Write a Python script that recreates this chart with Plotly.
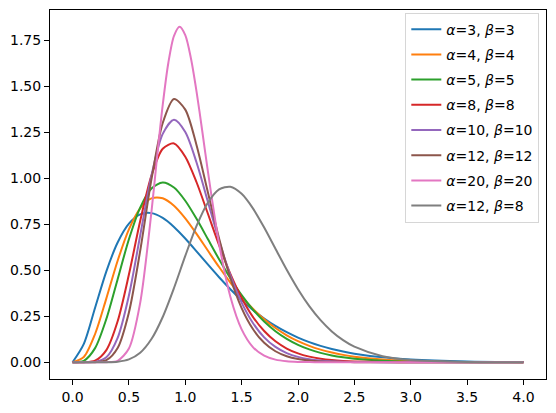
import plotly.graph_objects as go

# x positions shared by most curves
x = [0.0, 0.1, 0.2, 0.3, 0.4, 0.5, 0.6, 0.7, 0.8, 0.9, 1.0,
     1.1, 1.2, 1.3, 1.4, 1.5, 1.6, 1.7, 1.8, 1.9, 2.0,
     2.1, 2.2, 2.3, 2.4, 2.5, 2.75, 3.0, 3.5, 4.0]

# the narrow a=20 curve gets a few extra points around its peak
x_pink = [0.0, 0.1, 0.2, 0.3, 0.4, 0.5, 0.6, 0.7, 0.75, 0.8, 0.85, 0.9, 0.95, 1.0,
          1.05, 1.1, 1.15, 1.2, 1.3, 1.4, 1.5, 1.6, 1.7, 1.8, 1.9, 2.0,
          2.1, 2.2, 2.3, 2.4, 2.5, 2.75, 3.0, 3.5, 4.0]

y_a3 = [0.0, 0.10001, 0.29636, 0.49398, 0.65058, 0.75306, 0.80335, 0.81005, 0.78380, 0.73489, 0.67213,
        0.60248, 0.53118, 0.46182, 0.39679, 0.33744, 0.28442, 0.23786, 0.19755, 0.16307, 0.13385,
        0.10932, 0.08889, 0.07197, 0.05805, 0.04667, 0.02667, 0.01499, 0.00455, 0.00133]
y_a4 = [0.0, 0.02860, 0.15337, 0.34698, 0.55133, 0.72179, 0.83605, 0.88993, 0.89048, 0.84990, 0.78147,
        0.69720, 0.60677, 0.51713, 0.43294, 0.35695, 0.29039, 0.23348, 0.18578, 0.14646, 0.11450,
        0.08886, 0.06848, 0.05245, 0.03995, 0.03027, 0.01482, 0.00708, 0.00152, 0.00031]
y_a5 = [0.0, 0.00790, 0.07664, 0.23534, 0.45113, 0.66802, 0.84017, 0.94406, 0.97685, 0.94905, 0.87735,
        0.77911, 0.66929, 0.55911, 0.45614, 0.36459, 0.28627, 0.22128, 0.16869, 0.12702, 0.09459,
        0.06973, 0.05094, 0.03691, 0.02654, 0.01896, 0.00795, 0.00323, 0.00049, 0.00007]
y_a8 = [0.0, 0.00015, 0.00860, 0.06604, 0.22234, 0.47628, 0.76689, 1.01375, 1.15992, 1.18867, 1.11668,
        0.97778, 0.80784, 0.63569, 0.47983, 0.34945, 0.24669, 0.16945, 0.11359, 0.07453, 0.04796,
        0.03032, 0.01887, 0.01157, 0.00700, 0.00419, 0.00110, 0.00027, 0.00001, 0.0]
y_a10 = [0.0, 0.00001, 0.00191, 0.02701, 0.13233, 0.36268, 0.68838, 1.01404, 1.24077, 1.31755, 1.25110,
         1.08525, 0.87365, 0.66053, 0.47344, 0.32408, 0.21312, 0.13529, 0.08326, 0.04981, 0.02909,
         0.01659, 0.00928, 0.00509, 0.00275, 0.00146, 0.00028, 0.00005, 0.0, 0.0]
y_a12 = [0.0, 0.0, 0.00042, 0.01082, 0.07710, 0.27039, 0.60499, 0.99316, 1.29958, 1.42991, 1.37243,
         1.17938, 0.92506, 0.67205, 0.45739, 0.29425, 0.18025, 0.10578, 0.05973, 0.03262, 0.01727,
         0.00890, 0.00447, 0.00220, 0.00106, 0.00050, 0.00007, 0.0, 0.0, 0.0]
y_a20 = [0.0, 0.0, 0.0, 0.00025, 0.00795, 0.07464, 0.32278, 0.81704, 1.11494, 1.39801, 1.62719, 1.77341, 1.82248, 1.77671,
         1.65165, 1.47058, 1.25891, 1.03963, 0.64383, 0.35618, 0.17883, 0.08248, 0.03531, 0.01416, 0.00535, 0.00192,
         0.00066, 0.00021, 0.00007, 0.00002, 0.0, 0.0, 0.0, 0.0, 0.0]
y_a12b8 = [0.0, 0.0, 0.00001, 0.00028, 0.00294, 0.01540, 0.05141, 0.12591, 0.24571, 0.40332, 0.57753,
           0.74036, 0.86636, 0.93894, 0.95331, 0.91496, 0.83614, 0.73191, 0.61671, 0.50227, 0.39678,
           0.30493, 0.22855, 0.16747, 0.12020, 0.08460, 0.03267, 0.01152, 0.00115, 0.00009]

names = ["<i>α</i>=3, <i>β</i>=3", "<i>α</i>=4, <i>β</i>=4", "<i>α</i>=5, <i>β</i>=5",
         "<i>α</i>=8, <i>β</i>=8", "<i>α</i>=10, <i>β</i>=10", "<i>α</i>=12, <i>β</i>=12",
         "<i>α</i>=20, <i>β</i>=20", "<i>α</i>=12, <i>β</i>=8"]
colors = ["#1f77b4", "#ff7f0e", "#2ca02c", "#d62728",
          "#9467bd", "#8c564b", "#e377c2", "#7f7f7f"]

xs = [x, x, x, x, x, x, x_pink, x]
ys = [y_a3, y_a4, y_a5, y_a8, y_a10, y_a12, y_a20, y_a12b8]

x_ticks = [0.0, 0.5, 1.0, 1.5, 2.0, 2.5, 3.0, 3.5, 4.0]
y_ticks = [0.0, 0.25, 0.5, 0.75, 1.0, 1.25, 1.5, 1.75]

fig = go.Figure()
for i in range(len(ys)):
    fig.add_trace(go.Scatter(x=xs[i], y=ys[i], mode="lines", name=names[i],
                             legendgroup=str(i),
                             line=dict(color=colors[i], width=2, shape="spline", smoothing=0.8)))

axis_style = dict(showline=True, linecolor="black", linewidth=1, mirror=True,
                  ticks="outside", ticklen=5, tickcolor="black", showgrid=False,
                  zeroline=False, automargin=False, tickfont=dict(size=14, color="black"))

fig.update_xaxes(range=[-0.2, 4.2], tickvals=x_ticks, tickformat=".1f", **axis_style)
fig.update_yaxes(range=[-0.0911, 1.9136], tickvals=y_ticks, tickformat=".2f", **axis_style)

# the page body has an 8px margin, so the figure is a bit smaller than the window
fig.update_layout(
    width=548, height=405,
    margin=dict(l=42, r=10, t=2, b=34),
    paper_bgcolor="white", plot_bgcolor="white",
    font=dict(family="DejaVu Sans", size=14, color="black"),
    legend=dict(x=0.9865, y=0.993, xanchor="right", yanchor="top",
                bgcolor="rgba(255,255,255,0.8)", bordercolor="#d6d6d6", borderwidth=1,
                traceorder="grouped", tracegroupgap=4, itemwidth=30,
                font=dict(size=14)),
)

fig.write_html("out.html")
